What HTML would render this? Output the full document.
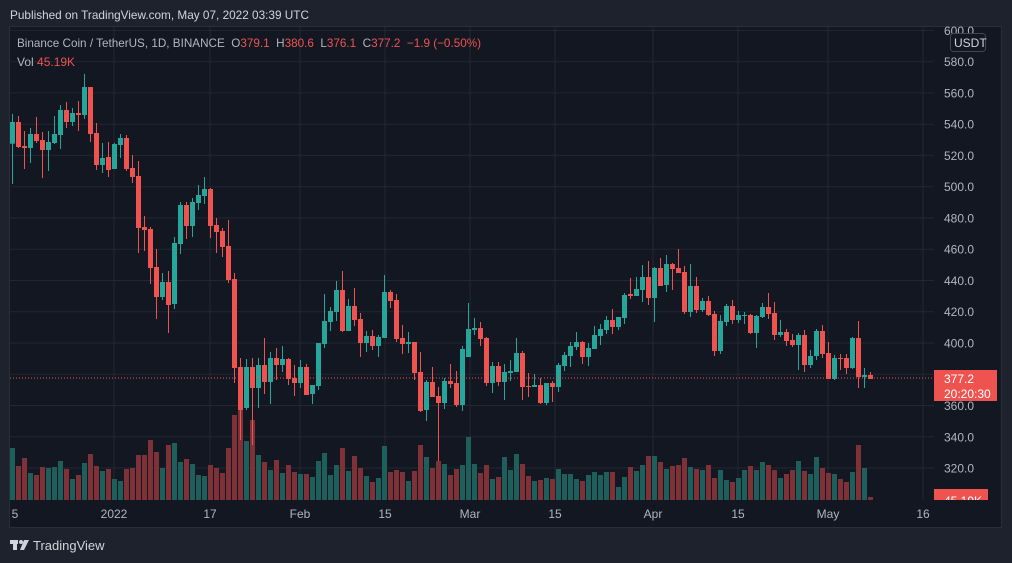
<!DOCTYPE html>
<html><head><meta charset="utf-8">
<style>
html,body{margin:0;padding:0;background:#1e222d;width:1012px;height:563px;overflow:hidden;font-family:"Liberation Sans",sans-serif;}
svg{position:absolute;left:0;top:0;}
</style></head>
<body>
<svg id="s" width="1012" height="563" xmlns="http://www.w3.org/2000/svg">
<rect x="0" y="0" width="1012" height="563" fill="#1e222d"/>
<rect x="9.5" y="26.5" width="992" height="501" fill="#131722" stroke="#2a2e39"/>
<text x="10" y="19" fill="#d1d4dc" font-size="12" textLength="299" lengthAdjust="spacingAndGlyphs">Published on TradingView.com, May 07, 2022 03:39 UTC</text>
<g id="grid"></g>
<g id="vol"></g>
<g id="candles"></g>
<line x1="10" y1="378" x2="934" y2="378" stroke="#ef5350" stroke-width="1" stroke-dasharray="1,2"/>
<g id="axis" fill="#b2b5be" font-size="12"></g>
<rect x="950.5" y="33.5" width="35" height="18" rx="3" fill="#131722" stroke="#434651"/>
<text x="954" y="47" fill="#d1d4dc" font-size="12">USDT</text>
<rect x="934" y="370" width="63" height="31" fill="#ef5350"/>
<text x="944" y="383" fill="#fff" font-size="12">377.2</text>
<text x="944" y="398" fill="#fff" font-size="12">20:20:30</text>
<svg x="934" y="489" width="54" height="11"><rect x="0" y="0" width="54" height="11" fill="#ef5350"/><text x="10" y="16" fill="#fff" font-size="12">45.19K</text></svg>
<text x="17" y="47" fill="#b2b5be" font-size="12" xml:space="preserve" textLength="464" lengthAdjust="spacingAndGlyphs">Binance Coin / TetherUS, 1D, BINANCE  O<tspan fill="#ef5350">379.1</tspan>  H<tspan fill="#ef5350">380.6</tspan>  L<tspan fill="#ef5350">376.1</tspan>  C<tspan fill="#ef5350">377.2  −1.9 (−0.50%)</tspan></text>
<text x="17" y="66" fill="#b2b5be" font-size="12">Vol <tspan fill="#ef5350">45.19K</tspan></text>
<g fill="#d1d4dc"><rect x="10" y="540" width="8" height="4"/><rect x="13" y="540" width="4" height="10"/><circle cx="21" cy="542" r="2"/><polygon points="24,540 29,540 24,550 20,550"/></g>
<text x="33" y="550" fill="#d1d4dc" font-size="13">TradingView</text>
</svg>
<script>
var C=[[143.7,122,114,184],[122,147,116,148],[146,148,131,169],[148,134,128,163],[134,141,117,143],[140,150,132,178],[150,142,131,171],[143,134,116,144],[135,110,105,149],[110,122,102,128],[122,113,108,126],[113,115,101,131],[115,87,74,119],[87,134,87,142],[133,165,123,170],[165,158,143,173],[157,170,142,177],[169,144,143,169],[145,138,134,158],[138,169,135,171],[168,177,155,183],[176,228,161,253],[227,230,216,251],[229,268,227,284],[267,297,249,319],[297,282,273,300],[282,305,271,333],[304,243,237,309],[244,205,202,254],[205,226,202,239],[226,202,198,237],[203,195,185,210],[196,189,177,204],[189,226,188,238],[225,232,218,253],[231,247,228,257],[246,280,220,283],[279,368,273,383],[367,410,358,440],[408,367,359,410],[367,388,358,445],[388,365,358,408],[365,382,338,394],[382,358,352,404],[358,365,348,380],[365,359,346,372],[359,379,358,385],[378,383,365,396],[383,367,360,388],[367,395,364,395],[394,385,385,404],[386,343,343,390],[344,321,294,348],[322,311,307,331],[312,290,281,321],[290,331,271,332],[331,306,299,331],[306,320,288,326],[319,343,313,357],[343,336,331,352],[336,346,330,350],[346,337,335,357],[338,292,275,338],[292,301,290,308],[300,339,294,342],[338,344,325,354],[344,342,332,353],[342,373,342,380],[372,411,352,412],[410,382,380,421],[382,397,367,397],[396,403,387,461],[403,381,378,409],[381,384,364,388],[383,405,371,407],[405,349,346,411],[357,329,303,357],[330,328,318,335],[328,339,322,346],[338,383,337,386],[383,366,362,393],[366,382,362,386],[382,372,364,400],[373,371,360,381],[372,353,338,372],[353,387,351,400],[386,387,373,397],[387,385,374,387],[385,403,378,404],[403,383,383,405],[383,387,381,402],[387,365,363,392],[366,355,352,371],[356,346,342,367],[347,342,332,350],[342,357,341,364],[357,348,343,366],[349,335,326,349],[336,329,324,345],[330,320,316,334],[320,327,309,334],[327,317,317,330],[318,295,293,324],[294,296,278,299],[296,289,277,296],[290,277,265,302],[277,298,261,305],[298,268,267,322],[268,286,258,286],[285,264,255,292],[264,269,263,290],[268,273,249,273],[272,312,266,314],[312,286,264,317],[286,310,277,313],[310,301,298,312],[301,315,296,316],[314,351,311,356],[351,321,315,354],[322,306,304,326],[306,320,300,324],[320,315,311,323],[316,315,312,324],[315,333,314,334],[333,316,315,348],[317,307,303,318],[307,314,293,319],[313,335,302,340],[335,332,320,337],[332,341,329,346],[340,345,334,347],[345,335,333,370],[335,365,330,372],[365,356,350,368],[356,331,329,360],[331,354,325,358],[353,379,342,379],[379,358,355,380],[358,359,354,370],[358,368,354,374],[368,338,337,369],[338,377,321,388],[377,375,368,388],[375,379,372,379]];
var V=[448,466,458,473,475,467,468,467,461,469,479,475,463,454,466,471,469,479,481,469,468,455,455,440,452,468,445,443,462,459,464,475,476,465,468,473,448,415,400,441,420,455,462,470,460,473,465,472,474,474,477,461,453,475,465,448,471,456,468,476,482,478,446,472,470,472,481,471,445,457,468,461,464,475,469,465,437,464,473,465,479,477,457,470,454,464,476,481,480,478,479,469,474,474,479,481,475,472,475,472,472,487,477,467,471,465,456,456,462,469,466,465,458,467,469,470,465,478,470,480,482,478,470,466,470,462,465,470,478,474,470,461,471,474,457,468,473,474,479,482,472,445,468,497];
var ns="http://www.w3.org/2000/svg";
function el(p,t,a){var e=document.createElementNS(ns,t);for(var k in a)e.setAttribute(k,a[k]);p.appendChild(e);return e;}
var g=document.getElementById('grid'),ax=document.getElementById('axis');
function py(p){return 343-(p-400)*1.563;}
for(var p=320;p<=600;p+=20){var y=py(p);if(y>27)el(g,'line',{x1:10,x2:934,y1:y.toFixed(1),y2:y.toFixed(1),stroke:'#232733'});var t=el(ax,'text',{x:944,y:(y+4.5).toFixed(1)});t.textContent=p.toFixed(1);}
var d=[[15,'5'],[114,'2022'],[210,'17'],[300,'Feb'],[385,'15'],[470,'Mar'],[555,'15'],[653,'Apr'],[738,'15'],[828,'May'],[923,'16']];
d.forEach(function(a){if(a[0]>20)el(g,'line',{x1:a[0],x2:a[0],y1:27,y2:500,stroke:'#232733'});var t=el(ax,'text',{x:a[0],y:518,'text-anchor':'middle'});t.textContent=a[1];});
var vg=document.getElementById('vol'),cg=document.getElementById('candles');
C.forEach(function(c,i){var x=12.5+6*i;var up=c[1]<c[0];var col=up?'#26a69a':'#ef5350';
var vy=V[i];el(vg,'rect',{x:x-2.5,y:vy,width:5,height:500-vy,fill:up?'#1f5f5b':'#7e3137'});
el(cg,'line',{x1:x,x2:x,y1:c[2],y2:c[3],stroke:col,'stroke-width':1});
var t=Math.min(c[0],c[1]),h=Math.max(1,Math.abs(c[0]-c[1]));
el(cg,'rect',{x:x-2.5,y:t,width:5,height:h,fill:col});});
</script>
</body></html>
